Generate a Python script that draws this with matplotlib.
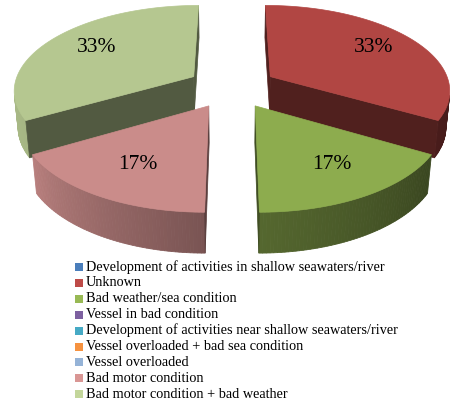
import numpy as np
import matplotlib.pyplot as plt
from matplotlib.patches import Polygon, Rectangle
from matplotlib.colors import to_rgb

causes = [
    "Development of activities in shallow seawaters/river",
    "Unknown",
    "Bad weather/sea condition",
    "Vessel in bad condition",
    "Development of activities near shallow seawaters/river",
    "Vessel overloaded + bad sea condition",
    "Vessel overloaded",
    "Bad motor condition",
    "Bad motor condition + bad weather",
]
counts = [0, 2, 1, 0, 0, 0, 0, 1, 2]
colors = ["#4a7ebb", "#be4b48", "#98b954", "#7d60a0", "#46aac5",
          "#f69240", "#95b3d7", "#d99694", "#c3d69b"]

# fake 3d view, projected straight into pixel space of the canvas
cx, cy, k = 232, 87, 180
D = 6.0
elev = np.radians(28)
se, ce = np.sin(elev), np.cos(elev)
h = 0.23       # pie thickness
E = 0.25       # explode distance
cam = np.array([0.0, D * se, D * ce])

def proj(X, Y, Z):
    X, Y, Z = np.broadcast_arrays(np.asarray(X, float), np.asarray(Y, float), np.asarray(Z, float))
    v = Y * ce - Z * se
    w = Y * se + Z * ce
    s = D / (D - w)
    return np.column_stack([cx + k * X * s, cy - k * v * s])

def depth(X, Y, Z):
    return Y * se + Z * ce

def shade(c, f):
    return tuple(np.clip(np.array(to_rgb(c)) * f, 0, 1))

def wall_f(t):
    t = t % 360
    return np.interp(t, [0, 90, 90.01, 180, 210, 270, 330, 360],
                     [0.36, 0.36, 0.88, 0.88, 0.85, 0.56, 0.38, 0.36])

def visible(n, p):
    return np.dot(n, cam - p) > 0

fig = plt.figure(figsize=(4.5, 4.04), dpi=100)
ax = fig.add_axes([0, 0, 1, 1])
ax.set_xlim(0, 450)
ax.set_ylim(404, 0)
ax.axis("off")

total = sum(counts)
start = 90.0
slices = []
for n, col in zip(counts, colors):
    if n == 0:
        continue
    span = 360.0 * n / total
    slices.append((start, start - span, n, col))
    start -= span

def slice_depth(s):
    m = np.radians((s[0] + s[1]) / 2)
    return depth(np.cos(m), 0, -np.sin(m))

z = 1
for a0, a1, n, col in sorted(slices, key=slice_depth):
    m = np.radians((a0 + a1) / 2)
    ox, oz = E * np.cos(m), -E * np.sin(m)
    top_col = shade(col, 0.93)

    # outer wall, in thin strips
    th = np.linspace(a1, a0, int(abs(a0 - a1)) + 1)
    for t0, t1 in zip(th[:-1], th[1:]):
        tm = np.radians((t0 + t1) / 2)
        nrm = np.array([np.cos(tm), 0, -np.sin(tm)])
        p = np.array([ox + np.cos(tm), -h / 2, oz - np.sin(tm)])
        if not visible(nrm, p):
            continue
        r = np.radians([t0, t1, t1, t0])
        pts = proj(ox + np.cos(r), [0, 0, -h, -h], oz - np.sin(r))
        c = shade(col, wall_f((t0 + t1) / 2))
        ax.add_patch(Polygon(pts, closed=True, fc=c, ec=c, lw=0.6, zorder=z))

    # cut faces
    for a, nang in ((a0, a0 + 90), (a1, a1 - 90)):
        ra, rn = np.radians(a), np.radians(nang)
        nrm = np.array([np.cos(rn), 0, -np.sin(rn)])
        p = np.array([ox + 0.5 * np.cos(ra), -h / 2, oz - 0.5 * np.sin(ra)])
        if not visible(nrm, p):
            continue
        pts = proj([ox, ox + np.cos(ra), ox + np.cos(ra), ox],
                   [0, 0, -h, -h],
                   [oz, oz - np.sin(ra), oz - np.sin(ra), oz])
        c = shade(col, 0.42)
        ax.add_patch(Polygon(pts, closed=True, fc=c, ec=c, lw=0.5, zorder=z + 1))

    # top face
    r = np.radians(np.linspace(a0, a1, 120))
    X = np.concatenate([[ox], ox + np.cos(r)])
    Z = np.concatenate([[oz], oz - np.sin(r)])
    pts = proj(X, 0, Z)
    ax.add_patch(Polygon(pts, closed=True, fc=top_col, ec=top_col, lw=0.5, zorder=z + 2))

    lx, lz = ox + 0.7 * np.cos(m), oz - 0.7 * np.sin(m)
    tx, ty = proj(lx, 0, lz)[0]
    ax.text(tx + 3, ty - 2, f"{100 * n / total:.0f}%", ha="center", va="center",
            fontsize=15.5, family="Liberation Serif", color="black", zorder=z + 3)
    z += 10

# legend
for i, (lab, col) in enumerate(zip(causes, colors)):
    y = 267 + i * 15.9
    ax.add_patch(Rectangle((75, y - 4), 8, 8, fc=col, ec="none", zorder=100))
    ax.text(86, y, lab, ha="left", va="center", fontsize=10.3,
            family="Liberation Serif", color="black", zorder=100)

fig.savefig("out.png", dpi=100)
